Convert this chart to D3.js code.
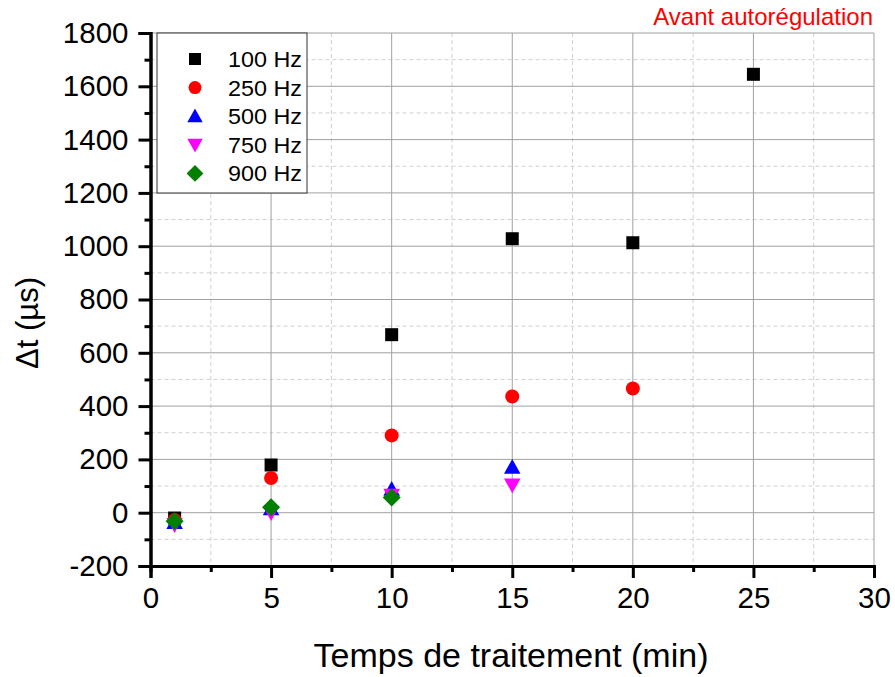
<!DOCTYPE html>
<html><head><meta charset="utf-8">
<script src="https://cdn.jsdelivr.net/npm/d3@7"></script>
<style>body{margin:0;background:#fff;} svg{display:block;font-family:"Liberation Sans",Arial,sans-serif;}</style>
</head><body><svg id="c" width="895" height="677"></svg>
<script>
const times = [1, 5, 10, 15, 20, 25];
const series = ["100 Hz", "250 Hz", "500 Hz", "750 Hz", "900 Hz"];
const hz100 = [-20, 179, 668, 1028, 1013, 1645];
const hz250 = [-27, 130, 290, 436, 466];
const hz500 = [-36, 15, 88, 171];
const hz750 = [-45, 0, 65, 104];
const hz900 = [-32, 20, 57];
const xTicks = [0, 5, 10, 15, 20, 25, 30];
const yTicks = [-200, 0, 200, 400, 600, 800, 1000, 1200, 1400, 1600, 1800];

const colors = ["#000000", "#ff0000", "#0000ff", "#ff00ff", "#007f00"];
const shapes = ["square", "circle", "up", "down", "diamond"];
const data = [hz100, hz250, hz500, hz750, hz900];

const svg = d3.select("#c");
const L = 150.5, R = 874, T = 33, B = 566;
const x = d3.scaleLinear().domain([0, 30]).range([L, R]);
const y = d3.scaleLinear().domain([-200, 1800]).range([B, T]);

// minor grid
const g = svg.append("g");
d3.range(2.5, 30, 5).forEach(v => g.append("line").attr("x1", x(v)).attr("x2", x(v)).attr("y1", T).attr("y2", B)
  .attr("stroke", "#d0d0d0").attr("stroke-dasharray", "4,3"));
d3.range(-100, 1800, 200).forEach(v => g.append("line").attr("x1", L).attr("x2", R).attr("y1", y(v)).attr("y2", y(v))
  .attr("stroke", "#d0d0d0").attr("stroke-dasharray", "4,3"));
// major grid
xTicks.slice(1).forEach(v => g.append("line").attr("x1", x(v)).attr("x2", x(v)).attr("y1", T).attr("y2", B)
  .attr("stroke", "#a0a0a0"));
yTicks.slice(1).forEach(v => g.append("line").attr("x1", L).attr("x2", R).attr("y1", y(v)).attr("y2", y(v))
  .attr("stroke", "#a0a0a0"));

// axes
const fmt = d => String(d);
const xAxis = d3.axisBottom(x).tickValues(xTicks).tickSize(12).tickPadding(9).tickFormat(fmt);
const xa = svg.append("g").attr("transform", `translate(0,${B})`).call(xAxis);
const xMinor = svg.append("g").attr("transform", `translate(0,${B})`)
  .call(d3.axisBottom(x).tickValues(d3.range(2.5, 30, 5)).tickSize(6).tickFormat(""));
const yAxis = d3.axisLeft(y).tickValues(yTicks).tickSize(12).tickPadding(10).tickFormat(fmt);
const ya = svg.append("g").attr("transform", `translate(${L},0)`).call(yAxis);
const yMinor = svg.append("g").attr("transform", `translate(${L},0)`)
  .call(d3.axisLeft(y).tickValues(d3.range(-100, 1800, 200)).tickSize(6).tickFormat(""));
[xa, ya, xMinor, yMinor].forEach(a => {
  a.selectAll(".domain").attr("stroke", "#000").attr("stroke-width", 3);
  a.selectAll(".tick line").attr("stroke", "#000").attr("stroke-width", 3);
  a.selectAll("text").attr("font-size", 29.5).attr("fill", "#000").attr("font-family", "Liberation Sans, Arial, sans-serif");
});

// markers
function sym(shape, s) {
  if (shape === "square") return d3.symbol(d3.symbolSquare, s * s)();
  if (shape === "circle") return d3.symbol(d3.symbolCircle, Math.PI * (s / 2) * (s / 2))();
  if (shape === "diamond") { const h = s * 0.6; return `M0,${-h}L${h},0L0,${h}L${-h},0Z`; }
  const h = s * 0.55;
  if (shape === "up") return `M0,${-h}L${h},${h * 0.8}L${-h},${h * 0.8}Z`;
  return `M0,${h}L${h},${-h * 0.8}L${-h},${-h * 0.8}Z`;
}
const sizes = [13, 14, 15, 15, 15];
data.forEach((vals, i) => {
  svg.append("g").selectAll("path").data(vals).join("path")
    .attr("d", sym(shapes[i], sizes[i]))
    .attr("transform", (d, j) => `translate(${x(times[j])},${y(d)})`)
    .attr("fill", colors[i]);
});

// legend
const lg = svg.append("g");
lg.append("rect").attr("x", 157).attr("y", 33).attr("width", 150).attr("height", 160)
  .attr("fill", "#fff").attr("stroke", "#333").attr("stroke-width", 1);
series.forEach((s, i) => {
  const yy = 59 + i * 28.6;
  lg.append("path").attr("d", sym(shapes[i], sizes[i] - 1)).attr("transform", `translate(195,${yy})`).attr("fill", colors[i]);
  lg.append("text").attr("x", 228).attr("y", yy).attr("dy", "0.36em").attr("font-size", 22)
    .attr("textLength", 74).attr("lengthAdjust", "spacingAndGlyphs").text(s);
});

// titles
svg.append("text").attr("x", 511).attr("y", 667).attr("text-anchor", "middle").attr("font-size", 34).text("Temps de traitement (min)");
svg.append("text").attr("transform", "translate(38,323) rotate(-90)").attr("text-anchor", "middle").attr("font-size", 31).text("Δt (µs)");
svg.append("text").attr("x", 873).attr("y", 25).attr("text-anchor", "end").attr("font-size", 24).attr("fill", "#ff0000").text("Avant autorégulation");
</script></body></html>
